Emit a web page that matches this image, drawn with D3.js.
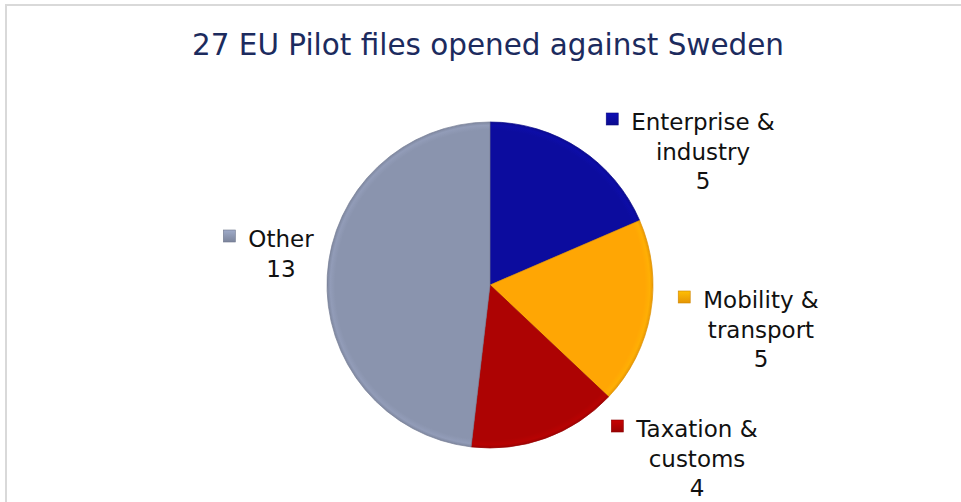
<!DOCTYPE html>
<html>
<head>
<meta charset="utf-8">
<script src="https://cdn.jsdelivr.net/npm/d3@7/dist/d3.min.js"></script>
<style>
  html, body { margin: 0; padding: 0; background: #ffffff; }
  svg { display: block; }
</style>
</head>
<body>
<svg id="chart" width="961" height="502"></svg>
<script>
const title = "27 EU Pilot files opened against Sweden";
const categories = ["Enterprise & industry", "Mobility & transport", "Taxation & customs", "Other"];
const labelLines = [["Enterprise &", "industry"], ["Mobility &", "transport"], ["Taxation &", "customs"], ["Other"]];
const values = [5, 5, 4, 13];
const colors = ["#0c0c9e", "#ffa604", "#ad0303", "#8a94ae"];

// layout (label block centres / first baselines)
const labelLayout = [
  { cx: 703, y: 130 },
  { cx: 761, y: 308 },
  { cx: 697, y: 437 },
  { cx: 281, y: 247 }
];

const W = 961, H = 502;
const cx = 490, cy = 285, R = 163;

const svg = d3.select("#chart");
const defs = svg.append("defs");

// frame
svg.append("rect").attr("x", 5).attr("y", 4).attr("width", W - 5).attr("height", 2).attr("fill", "#d9d9d9");
svg.append("rect").attr("x", 5).attr("y", 4).attr("width", 2).attr("height", H - 4).attr("fill", "#d9d9d9");

// title
svg.append("text")
  .attr("x", 488).attr("y", 55)
  .attr("text-anchor", "middle")
  .attr("font-family", "DejaVu Sans, Verdana, sans-serif")
  .attr("font-size", 30)
  .attr("fill", "#1c2b5e")
  .attr("textLength", 592)
  .attr("lengthAdjust", "spacingAndGlyphs")
  .text(title);

// gradients per slice (subtle bevel)
colors.forEach((c, i) => {
  const g = defs.append("radialGradient").attr("id", "g" + i)
    .attr("gradientUnits", "userSpaceOnUse")
    .attr("cx", 0).attr("cy", 0).attr("r", R);
  const base = d3.color(c);
  g.append("stop").attr("offset", "0%").attr("stop-color", base.formatHex());
  g.append("stop").attr("offset", "95%").attr("stop-color", base.formatHex());
  g.append("stop").attr("offset", "98%").attr("stop-color", base.brighter(0.15).formatHex());
  g.append("stop").attr("offset", "100%").attr("stop-color", base.darker(0.25).formatHex());
});

const pie = d3.pie().value(d => d).sort(null);
const arcs = pie(values);
const arc = d3.arc().innerRadius(0).outerRadius(R);

const gPie = svg.append("g").attr("transform", `translate(${cx},${cy})`);
gPie.selectAll("path.slice")
  .data(arcs)
  .enter().append("path")
  .attr("class", "slice")
  .attr("d", arc)
  .attr("fill", (d, i) => `url(#g${i})`)
  .attr("stroke", (d, i) => d3.color(colors[i]).darker(0.4).formatHex())
  .attr("stroke-width", 0.7);

// labels
const lblFont = "DejaVu Sans, Verdana, sans-serif";
const gLbl = svg.append("g");
arcs.forEach((a, i) => {
  const L = labelLayout[i];
  const lines = labelLines[i].concat([String(values[i])]);
  const t = gLbl.append("text")
    .attr("font-family", lblFont)
    .attr("font-size", 23)
    .attr("fill", "#111111")
    .attr("text-anchor", "middle");
  lines.forEach((ln, j) => {
    t.append("tspan").attr("x", L.cx).attr("y", L.y + j * 29.5).text(ln);
  });
  const firstW = t.select("tspan").node().getComputedTextLength();
  const kx = L.cx - firstW / 2 - 25;
  const ky = L.y - 17;
  const kc = d3.color(colors[i]);
  const kg = defs.append("linearGradient").attr("id", "k" + i)
    .attr("x1", 0).attr("y1", 0).attr("x2", 0).attr("y2", 1);
  kg.append("stop").attr("offset", "0%").attr("stop-color", kc.brighter(0.4).formatHex());
  kg.append("stop").attr("offset", "100%").attr("stop-color", kc.darker(0.3).formatHex());
  gLbl.append("rect")
    .attr("x", kx).attr("y", ky).attr("width", 12).attr("height", 12)
    .attr("fill", `url(#k${i})`)
    .attr("stroke", kc.darker(0.6).formatHex()).attr("stroke-width", 0.6);
});
</script>
</body>
</html>
